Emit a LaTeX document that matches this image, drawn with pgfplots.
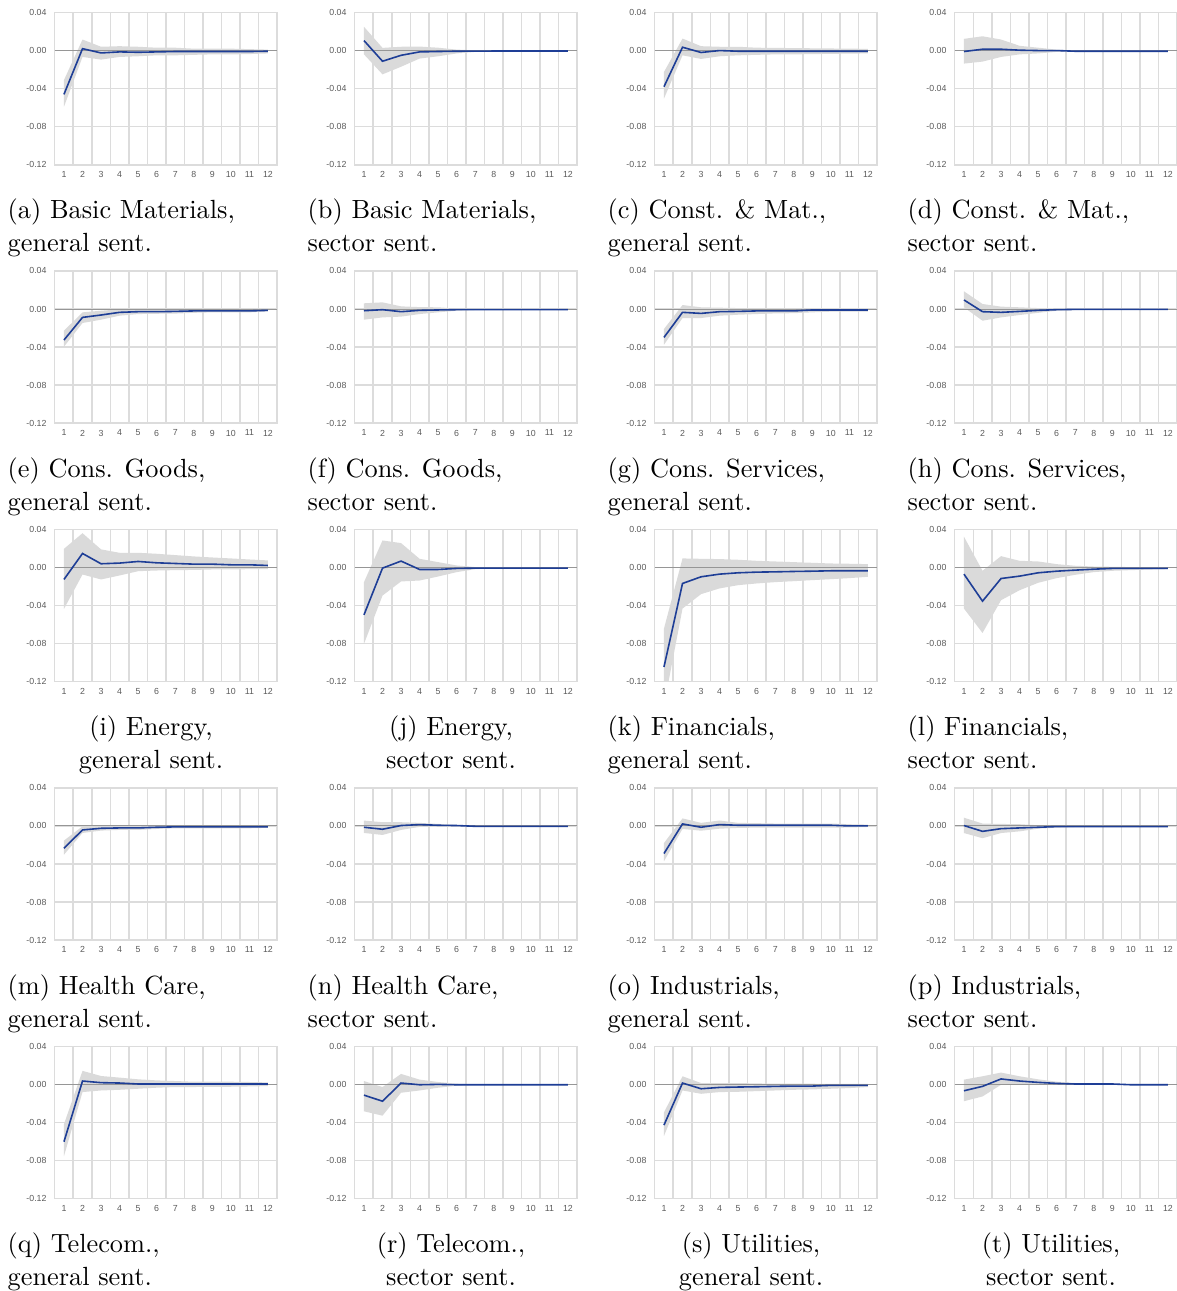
\documentclass[border=0pt]{standalone}
\usepackage{fontspec}
\usepackage{pgfplots}
\usepackage{pgfplotstable}
\pgfplotsset{compat=1.18}
\usepgfplotslibrary{fillbetween}
\newfontfamily\tickfont{Liberation Sans}
\newfontfamily\capfont{lmroman10-regular.otf}
\definecolor{bandcol}{RGB}{218,218,218}
\definecolor{gridcol}{RGB}{220,220,220}
\definecolor{zerocol}{RGB}{150,150,150}
\definecolor{linecol}{RGB}{30,62,150}
\definecolor{tickcol}{RGB}{90,90,90}

\pgfplotsset{irf/.style={
  scale only axis, width=222.5pt, height=152.3pt, anchor=south west,
  xmin=0.5, xmax=12.5, ymin=-0.12, ymax=0.04,
  xtick={1,...,12}, ytick={-0.12,-0.08,-0.04,0,0.04},
  minor xtick={0.5,1.5,...,12.5}, xminorgrids=true, ymajorgrids=true,
  grid style={gridcol, line width=1.5pt},
  minor grid style={gridcol, line width=1.5pt},
  axis line style={gridcol, line width=1.5pt},
  major tick length=0pt, minor tick length=0pt,
  scaled y ticks=false,
  tick label style={font=\tickfont\fontsize{8.8}{9}\selectfont, text=tickcol, inner sep=0pt},
  /pgf/number format/assume math mode=true,
  yticklabel style={/pgf/number format/fixed, /pgf/number format/fixed zerofill, /pgf/number format/precision=2, /tikz/xshift=-8pt},
  xticklabel style={/tikz/yshift=-6.5pt},
}}

\newcommand\panel[3]{%
\begin{axis}[irf, at={(54.7pt+300pt*#1,1126.2pt-258.45pt*#2)}]
\addplot[name path=u, draw=none] table[x=t,y=u] {#3};
\addplot[name path=l, draw=none] table[x=t,y=l] {#3};
\addplot[bandcol] fill between[of=u and l];
\addplot[zerocol, line width=1pt] coordinates {(0.5,0) (12.5,0)};
\addplot[linecol, line width=1.6pt] table[x=t,y=m] {#3};
\end{axis}}

\newcommand\capfnt{\capfont\fontsize{26.3}{30}\selectfont}
\newcommand\capL[4]{%
\node[anchor=base west, font=\capfnt, inner sep=0pt] at (7.5pt+300pt*#1, 1072pt-258.45pt*#2) {#3};
\node[anchor=base west, font=\capfnt, inner sep=0pt] at (7.5pt+300pt*#1, 1039pt-258.45pt*#2) {#4};}
\newcommand\capC[4]{%
\node[anchor=base, font=\capfnt, inner sep=0pt] at (151pt+300pt*#1, 1072pt-258.45pt*#2) {#3};
\node[anchor=base, font=\capfnt, inner sep=0pt] at (151pt+300pt*#1, 1039pt-258.45pt*#2) {#4};}

\pgfplotstableread{
t m u l
1 -0.046 -0.031 -0.059
2 0.002 0.0116 -0.0067
3 -0.0025 0.004 -0.0095
4 -0.0014 0.0046 -0.0067
5 -0.0018 0.004 -0.006
6 -0.0014 0.003 -0.005
7 -0.001 0.003 -0.005
8 -0.001 0.002 -0.0045
9 -0.001 0.002 -0.004
10 -0.001 0.002 -0.004
11 -0.001 0.0015 -0.0037
12 -0.0007 0.001 -0.003
}\tA
\pgfplotstableread{
t m u l
1 0.0105 0.025 -0.004
2 -0.0112 0.0028 -0.025
3 -0.005 0.004 -0.017
4 -0.0014 0.0042 -0.0084
5 -0.001 0.003 -0.006
6 -0.0007 0.001 -0.003
7 -0.0006 0.0002 -0.0014
8 -0.0005 0.0002 -0.001
9 -0.0005 0.0002 -0.001
10 -0.0005 0.0002 -0.001
11 -0.0005 0.0002 -0.001
12 -0.0005 0.0002 -0.001
}\tB
\pgfplotstableread{
t m u l
1 -0.038 -0.0225 -0.0505
2 0.0035 0.0126 -0.005
3 -0.002 0.0046 -0.0088
4 0 0.004 -0.006
5 -0.0007 0.004 -0.005
6 -0.0007 0.003 -0.0045
7 -0.0007 0.0028 -0.004
8 -0.0007 0.0026 -0.004
9 -0.0007 0.0024 -0.0037
10 -0.0007 0.0022 -0.0035
11 -0.0007 0.002 -0.0032
12 -0.0007 0.0018 -0.003
}\tC
\pgfplotstableread{
t m u l
1 -0.001 0.0123 -0.0137
2 0.0014 0.015 -0.0116
3 0.0014 0.0116 -0.0067
4 0.0004 0.005 -0.004
5 0 0.003 -0.003
6 0 0.001 -0.0014
7 -0.0007 0.0001 -0.001
8 -0.0007 0.0001 -0.001
9 -0.0007 0.0001 -0.001
10 -0.0007 0.0001 -0.001
11 -0.0007 0.0001 -0.001
12 -0.0007 0.0001 -0.001
}\tD
\pgfplotstableread{
t m u l
1 -0.0326 -0.0228 -0.0396
2 -0.0088 -0.0035 -0.0147
3 -0.0063 -0.0018 -0.0112
4 -0.0035 -0.0004 -0.007
5 -0.0028 0 -0.0053
6 -0.0028 0 -0.005
7 -0.0025 0 -0.0048
8 -0.002 0 -0.004
9 -0.002 0 -0.0035
10 -0.002 0 -0.0035
11 -0.002 0 -0.0035
12 -0.0014 -0.0002 -0.0025
}\tE
\pgfplotstableread{
t m u l
1 -0.0018 0.006 -0.0112
2 -0.0007 0.007 -0.0088
3 -0.0028 0.0028 -0.008
4 -0.0014 0.002 -0.0053
5 -0.001 0.0018 -0.0035
6 -0.0007 0.0004 -0.0018
7 -0.0007 0.0001 -0.001
8 -0.0007 0.0001 -0.001
9 -0.0007 0.0001 -0.001
10 -0.0007 0.0001 -0.001
11 -0.0007 0.0001 -0.001
12 -0.0007 0.0001 -0.001
}\tF
\pgfplotstableread{
t m u l
1 -0.0298 -0.021 -0.0375
2 -0.0035 0.0042 -0.0095
3 -0.0046 0.0018 -0.0095
4 -0.0028 0.0014 -0.007
5 -0.0025 0.001 -0.006
6 -0.002 0.0007 -0.0053
7 -0.002 0.0007 -0.0046
8 -0.002 0.0007 -0.0044
9 -0.001 0.0007 -0.0035
10 -0.001 0.0007 -0.0028
11 -0.001 0.0005 -0.0028
12 -0.001 0.0004 -0.0028
}\tG
\pgfplotstableread{
t m u l
1 0.0095 0.0186 0.0018
2 -0.0028 0.0053 -0.0123
3 -0.0035 0.0025 -0.0088
4 -0.0025 0.0018 -0.0063
5 -0.0014 0.001 -0.004
6 -0.0007 0.0004 -0.0018
7 -0.0004 0.0001 -0.001
8 -0.0004 0.0001 -0.0007
9 -0.0004 0.0001 -0.0007
10 -0.0004 0.0001 -0.0007
11 -0.0004 0.0001 -0.0007
12 -0.0004 0.0001 -0.0007
}\tH
\pgfplotstableread{
t m u l
1 -0.0126 0.0196 -0.0435
2 0.0147 0.036 -0.0074
3 0.0039 0.019 -0.0126
4 0.0046 0.0154 -0.0084
5 0.0063 0.0154 -0.0039
6 0.0049 0.0144 -0.0032
7 0.0042 0.013 -0.0028
8 0.0035 0.0116 -0.0026
9 0.0035 0.0105 -0.0021
10 0.0028 0.0095 -0.0021
11 0.0028 0.0084 -0.0018
12 0.0021 0.0074 -0.0018
}\tI
\pgfplotstableread{
t m u l
1 -0.0498 -0.0154 -0.0803
2 -0.0007 0.0284 -0.0295
3 0.0067 0.0256 -0.0147
4 -0.0021 0.0091 -0.0137
5 -0.0021 0.0056 -0.0095
6 -0.001 0.0021 -0.0049
7 -0.0007 0.0004 -0.0018
8 -0.0007 0.0001 -0.001
9 -0.0007 0.0001 -0.001
10 -0.0007 0.0001 -0.001
11 -0.0007 0.0001 -0.001
12 -0.0007 0.0001 -0.001
}\tJ
\pgfplotstableread{
t m u l
1 -0.1046 -0.0642 -0.145
2 -0.0168 0.0095 -0.0432
3 -0.0098 0.0091 -0.028
4 -0.007 0.0088 -0.022
5 -0.0056 0.0081 -0.0186
6 -0.0049 0.007 -0.0168
7 -0.0046 0.0063 -0.0154
8 -0.0042 0.0056 -0.0144
9 -0.0039 0.0049 -0.0133
10 -0.0035 0.0042 -0.0123
11 -0.0035 0.0039 -0.0112
12 -0.0035 0.0035 -0.0098
}\tK
\pgfplotstableread{
t m u l
1 -0.007 0.0323 -0.0432
2 -0.0354 -0.0035 -0.0688
3 -0.0116 0.0119 -0.0344
4 -0.0091 0.007 -0.0239
5 -0.0056 0.0063 -0.0161
6 -0.0039 0.0035 -0.0112
7 -0.0028 0.0018 -0.0077
8 -0.0018 0.001 -0.0049
9 -0.001 0.0007 -0.0035
10 -0.001 0.0004 -0.0028
11 -0.001 0.0002 -0.0022
12 -0.001 0.0002 -0.0018
}\tL
\pgfplotstableread{
t m u l
1 -0.0235 -0.0154 -0.0302
2 -0.0042 -0.0004 -0.0074
3 -0.0025 0.0007 -0.0049
4 -0.0021 0.0007 -0.0042
5 -0.0021 0.0007 -0.0042
6 -0.0014 0.0004 -0.0032
7 -0.001 0.0004 -0.0025
8 -0.001 0.0004 -0.0025
9 -0.001 0.0004 -0.0025
10 -0.001 0.0004 -0.0025
11 -0.001 0.0004 -0.0025
12 -0.001 0.0004 -0.002
}\tM
\pgfplotstableread{
t m u l
1 -0.0014 0.0056 -0.0074
2 -0.0035 0.0039 -0.0095
3 0.0004 0.0039 -0.0042
4 0.0014 0.0032 -0.001
5 0.0007 0.0021 -0.0007
6 0.0004 0.001 -0.0005
7 -0.0004 0.0001 -0.0007
8 -0.0004 0.0001 -0.0007
9 -0.0004 0.0001 -0.0007
10 -0.0004 0.0001 -0.0007
11 -0.0004 0.0001 -0.0007
12 -0.0004 0.0001 -0.0007
}\tN
\pgfplotstableread{
t m u l
1 -0.029 -0.018 -0.0371
2 0.0021 0.0079 -0.0032
3 -0.0014 0.0032 -0.005
4 0.0014 0.0057 -0.0029
5 0.0007 0.0032 -0.0021
6 0.0007 0.0029 -0.0018
7 0.0007 0.0025 -0.0018
8 0.0007 0.0025 -0.0018
9 0.0007 0.0025 -0.0018
10 0.0007 0.0025 -0.0018
11 0 0.0018 -0.0016
12 0 0.0014 -0.0011
}\tO
\pgfplotstableread{
t m u l
1 0.0004 0.0086 -0.0075
2 -0.0057 0.0025 -0.0129
3 -0.0029 0.0021 -0.0075
4 -0.0021 0.0018 -0.0057
5 -0.0014 0.0007 -0.0029
6 -0.0007 0.0001 -0.0018
7 -0.0007 0.0001 -0.0011
8 -0.0007 0.0001 -0.001
9 -0.0007 0.0001 -0.001
10 -0.0007 0.0001 -0.001
11 -0.0007 0.0001 -0.001
12 -0.0007 0.0001 -0.001
}\tP
\pgfplotstableread{
t m u l
1 -0.0602 -0.0418 -0.0754
2 0.0035 0.0142 -0.0081
3 0.0018 0.0088 -0.0064
4 0.0014 0.0071 -0.0057
5 0.0004 0.0053 -0.0046
6 0.0004 0.0042 -0.0035
7 0.0004 0.0035 -0.0028
8 0.0004 0.0028 -0.0028
9 0.0004 0.0028 -0.0025
10 0.0004 0.0028 -0.0025
11 0.0004 0.0025 -0.0022
12 0.0004 0.0021 -0.0018
}\tQ
\pgfplotstableread{
t m u l
1 -0.0113 0.0035 -0.0283
2 -0.0177 -0.0028 -0.0329
3 0.0014 0.011 -0.0088
4 -0.0004 0.005 -0.0064
5 0 0.0025 -0.0035
6 -0.0004 0.0007 -0.0014
7 -0.0004 0.0001 -0.0007
8 -0.0004 0.0001 -0.0007
9 -0.0004 0.0001 -0.0007
10 -0.0004 0.0001 -0.0007
11 -0.0004 0.0001 -0.0007
12 -0.0004 0.0001 -0.0007
}\tR
\pgfplotstableread{
t m u l
1 -0.0428 -0.0294 -0.0542
2 0.0014 0.0085 -0.0064
3 -0.0046 0.0014 -0.0099
4 -0.0032 0.0014 -0.0081
5 -0.0028 0.0014 -0.0078
6 -0.0025 0.001 -0.0071
7 -0.0021 0.0007 -0.0064
8 -0.0018 0.0007 -0.0057
9 -0.0018 0.0007 -0.0053
10 -0.001 0.0004 -0.0046
11 -0.001 0.0004 -0.0039
12 -0.001 0.0004 -0.0028
}\tS
\pgfplotstableread{
t m u l
1 -0.0067 0.005 -0.0177
2 -0.0021 0.0085 -0.0127
3 0.0057 0.0124 -0.0004
4 0.0035 0.0085 -0.0004
5 0.0021 0.0053 0
6 0.001 0.0028 0
7 0.0004 0.0014 -0.0004
8 0.0004 0.0007 -0.0004
9 0.0004 0.0007 -0.0004
10 -0.0004 0.0004 -0.0007
11 -0.0004 0.0004 -0.0007
12 -0.0004 0.0004 -0.0007
}\tT

\begin{document}
\begin{tikzpicture}
\panel{0}{0}{\tA}\panel{1}{0}{\tB}\panel{2}{0}{\tC}\panel{3}{0}{\tD}
\panel{0}{1}{\tE}\panel{1}{1}{\tF}\panel{2}{1}{\tG}\panel{3}{1}{\tH}
\panel{0}{2}{\tI}\panel{1}{2}{\tJ}\panel{2}{2}{\tK}\panel{3}{2}{\tL}
\panel{0}{3}{\tM}\panel{1}{3}{\tN}\panel{2}{3}{\tO}\panel{3}{3}{\tP}
\panel{0}{4}{\tQ}\panel{1}{4}{\tR}\panel{2}{4}{\tS}\panel{3}{4}{\tT}
\capL{0}{0}{(a) Basic Materials,}{general sent.}
\capL{1}{0}{(b) Basic Materials,}{sector sent.}
\capL{2}{0}{(c) Const. \& Mat.,}{general sent.}
\capL{3}{0}{(d) Const. \& Mat.,}{sector sent.}
\capL{0}{1}{(e) Cons. Goods,}{general sent.}
\capL{1}{1}{(f) Cons. Goods,}{sector sent.}
\capL{2}{1}{(g) Cons. Services,}{general sent.}
\capL{3}{1}{(h) Cons. Services,}{sector sent.}
\capC{0}{2}{(i) Energy,}{general sent.}
\capC{1}{2}{(j) Energy,}{sector sent.}
\capL{2}{2}{(k) Financials,}{general sent.}
\capL{3}{2}{(l) Financials,}{sector sent.}
\capL{0}{3}{(m) Health Care,}{general sent.}
\capL{1}{3}{(n) Health Care,}{sector sent.}
\capL{2}{3}{(o) Industrials,}{general sent.}
\capL{3}{3}{(p) Industrials,}{sector sent.}
\capL{0}{4}{(q) Telecom.,}{general sent.}
\capC{1}{4}{(r) Telecom.,}{sector sent.}
\capC{2}{4}{(s) Utilities,}{general sent.}
\capC{3}{4}{(t) Utilities,}{sector sent.}
\pgfresetboundingbox
\path[use as bounding box] (0pt,0pt) rectangle (1177pt,1291pt);
\end{tikzpicture}
\end{document}
